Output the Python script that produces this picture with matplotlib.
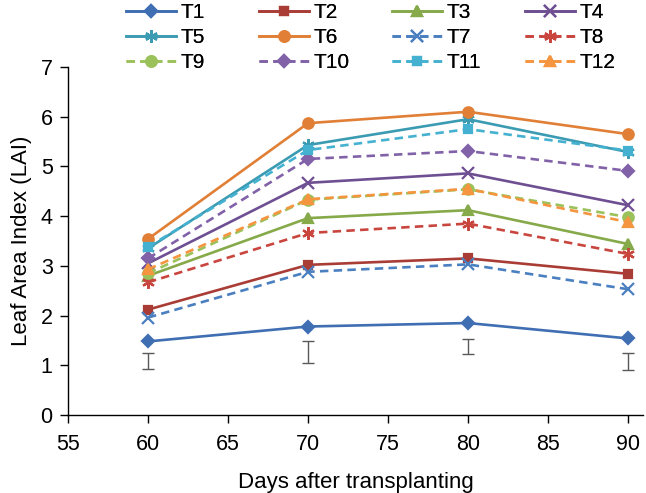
import matplotlib
matplotlib.use("Agg")
import matplotlib.pyplot as plt

plt.rcParams['font.family'] = ['Liberation Sans', 'DejaVu Sans']

days = [60, 70, 80, 90]
names = ["T1", "T2", "T3", "T4", "T5", "T6", "T7", "T8", "T9", "T10", "T11", "T12"]
T1 = [1.48, 1.78, 1.85, 1.54]
T2 = [2.12, 3.02, 3.15, 2.84]
T3 = [2.80, 3.96, 4.12, 3.44]
T4 = [3.05, 4.67, 4.86, 4.22]
T5 = [3.35, 5.43, 5.95, 5.29]
T6 = [3.54, 5.87, 6.10, 5.65]
T7 = [1.96, 2.88, 3.03, 2.53]
T8 = [2.67, 3.66, 3.85, 3.24]
T9 = [2.85, 4.33, 4.54, 3.98]
T10 = [3.15, 5.15, 5.31, 4.91]
T11 = [3.38, 5.33, 5.75, 5.32]
T12 = [2.93, 4.34, 4.55, 3.88]
series = [T1, T2, T3, T4, T5, T6, T7, T8, T9, T10, T11, T12]

err_center = [1.09, 1.27, 1.38, 1.08]
err_half = [0.16, 0.22, 0.15, 0.17]

colors = ['#3f6eb3', '#aa3c36', '#86a94a', '#6e4f92', '#3b9bb2', '#e07f35',
          '#4a7fc0', '#c9463f', '#9bc25a', '#8162a8', '#45b1d0', '#f5953f']
markers = ['D', 's', '^', 'x', (6, 2, 0), 'o', 'x', (6, 2, 0), 'o', 'D', 's', '^']
msizes = [6, 6, 7, 8, 9, 7.5, 8, 9, 7.5, 6, 6, 7]
styles = ['-'] * 6 + ['--'] * 6

fig = plt.figure(figsize=(6.46, 4.93), dpi=100)
ax = fig.add_axes([68/646, 1 - 415/493, (643 - 68)/646, (415 - 67)/493])

handles = []
for i, (vals, name) in enumerate(zip(series, names)):
    kw = dict(color=colors[i], lw=1.9, marker=markers[i], markersize=msizes[i],
              markerfacecolor=colors[i], markeredgecolor=colors[i], markeredgewidth=1.6,
              label=name)
    if styles[i] == '--':
        kw['dashes'] = (3.2, 2.0)
    h, = ax.plot(days, vals, **kw)
    handles.append(h)

ax.errorbar(days, err_center, yerr=err_half, fmt='none', ecolor='#595959',
            elinewidth=1.0, capsize=4, capthick=1.0)

ax.set_xlim(55, 90.94)
ax.set_ylim(0, 7)
ax.set_xticks([55, 60, 65, 70, 75, 80, 85, 90])
ax.set_yticks(range(0, 8))
ax.spines['top'].set_visible(False)
ax.spines['right'].set_visible(False)
ax.spines['left'].set_linewidth(1.0)
ax.spines['bottom'].set_linewidth(1.0)
ax.tick_params(axis='both', direction='out', length=6, width=1.0, labelsize=15.5)
ax.tick_params(axis='x', pad=8)
ax.tick_params(axis='y', pad=5)
ax.set_xlabel('Days after transplanting', fontsize=16, labelpad=12)
ax.set_ylabel('Leaf Area Index (LAI)', fontsize=16, labelpad=6)

for c in range(4):
    hs = [handles[c], handles[c + 4], handles[c + 8]]
    leg = fig.legend(handles=hs, labels=[h.get_label() for h in hs],
                     loc='upper left', bbox_to_anchor=((126 + 133 * c) / 646, 1 - 3/493),
                     frameon=False, fontsize=15, handlelength=2.4, handletextpad=0.2,
                     labelspacing=0.3, borderpad=0, borderaxespad=0)
    fig.add_artist(leg)

fig.savefig('out.png', dpi=100)
